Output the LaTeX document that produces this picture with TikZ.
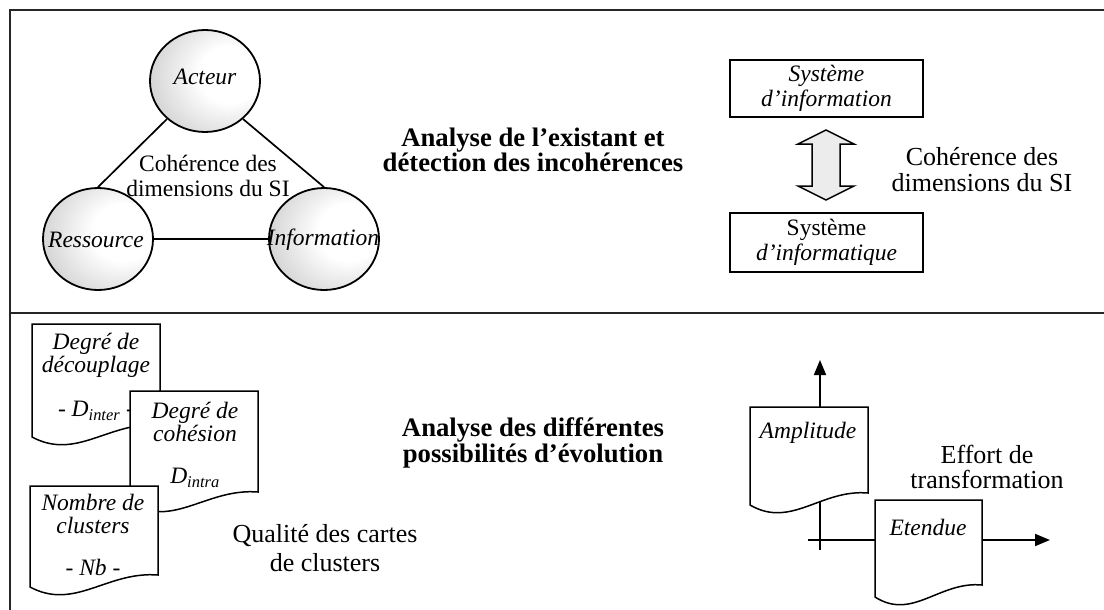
\documentclass[tikz,border=0pt]{standalone}
\usepackage{fontspec}
\setmainfont{Liberation Serif}
\usetikzlibrary{shapes.geometric,arrows.meta,calc}
\pgfdeclareradialshading{spherelit}{\pgfpoint{14bp}{4bp}}{color(0bp)=(white); color(14bp)=(white); color(40bp)=(gray!45); color(60bp)=(gray!80); color(75bp)=(gray!85)}
\newcommand{\docshape}[4]{%
  \filldraw[docline] (#1,#2) -- (#1+#3,#2) -- (#1+#3,#2+#4-12)
    .. controls (#1+0.6*#3,#2+#4-16) and (#1+0.35*#3,#2+#4+24) .. (#1,#2+#4) -- cycle;}
\tikzset{
  frame/.style={line width=2pt, black!85},
  ball/.style={ellipse, draw, line width=1.8pt, shading=spherelit, minimum width=110pt, minimum height=102pt, inner sep=0pt},
  link/.style={line width=1.7pt},
  sbox/.style={rectangle, draw, line width=1.5pt, minimum width=193pt, inner sep=0pt},
  docline/.style={line width=1.5pt, fill=white},
  axis/.style={line width=1.7pt, -{Triangle[length=15pt,width=12pt]}},
  reg/.style={font=\fontsize{23.5}{25}\selectfont, align=center, inner sep=0pt},
  regL/.style={font=\fontsize{26}{26}\selectfont, align=center, inner sep=0pt},
  ital/.style={font=\fontsize{23.5}{22.5}\selectfont\itshape, align=center, inner sep=0pt},
  boldt/.style={font=\fontsize{26.7}{24}\selectfont\bfseries, align=center, inner sep=0pt},
}
\begin{document}
\begin{tikzpicture}[x=1pt,y=-1pt]
\useasboundingbox (0,0) rectangle (1104,610);
% frame
\coordinate (fTL) at (10,10);
\coordinate (fTR) at (1104,10);
\coordinate (fBL) at (10,610);
\coordinate (mL) at (10,313);
\coordinate (mR) at (1104,313);
\draw[frame] (fBL) -- (fTL) -- (fTR);
\draw[frame] (mL) -- (mR);

% ---- top left: triangle of spheres
\node[ball] (acteur) at (205,81) {};
\node[ball] (ressource) at (98,239) {};
\node[ball] (information) at (324,239) {};
\draw[link] (acteur.225) -- (ressource.north);
\draw[link] (acteur.-45) -- (information.north);
\draw[link] (ressource.east) -- (information.west);
\node[ital] (acteurT) at (205,77) {Acteur};
\node[ital] (ressourceT) at (96,240) {Ressource};
\node[ital] (informationT) at (323,240) {Information};
\node[reg] (cohL) at (208,176) {Cohérence des\\dimensions du SI};

% ---- top middle
\node[boldt] (titre1) at (533,150) {Analyse de l’existant et\\détection des incohérences};

% ---- top right
\node[sbox, minimum height=57pt, ital, font=\fontsize{23.5}{24.5}\selectfont\itshape] (sysinfo) at (826.5,88.5) {Système\\d’information};
\node[sbox, minimum height=59pt, font=\fontsize{23.5}{24.5}\selectfont, align=center] (sysinfq) at (826.5,242.5) {Système\\\textit{d’informatique}};
\coordinate (arr) at (826,165);
\filldraw[line width=1.5pt, fill=gray!15, line join=miter]
  ($(arr)+(0,-35)$) -- ($(arr)+(28,-21)$) -- ($(arr)+(14,-21)$) -- ($(arr)+(14,21)$) -- ($(arr)+(28,21)$)
  -- ($(arr)+(0,35)$) -- ($(arr)+(-28,21)$) -- ($(arr)+(-14,21)$) -- ($(arr)+(-14,-21)$) -- ($(arr)+(-28,-21)$) -- cycle;
\node[regL] (cohR) at (982,170) {Cohérence des\\dimensions du SI};

% ---- bottom left: documents
\docshape{32}{324}{128}{113}
\node[ital] (doc1) at (96,377) {Degré de\\découplage\\[22pt]- D\textsubscript{inter} -};
\docshape{130}{391}{128}{113}
\node[ital] (doc2) at (195,445) {Degré de\\cohésion\\[20pt]D\textsubscript{intra}};
\docshape{30}{486}{128}{101}
\node[ital] (doc3) at (93,535) {Nombre de\\clusters\\[20pt]- Nb -};
\node[regL, font=\fontsize{26}{29}\selectfont] (qualite) at (325,548) {Qualité des cartes\\de clusters};

% ---- bottom middle
\node[boldt] (titre2) at (533,443) {Analyse des différentes\\possibilités d’évolution};

% ---- bottom right: axes
\coordinate (vB) at (820,550);
\coordinate (vT) at (820,360);
\coordinate (hL) at (808,540);
\coordinate (hR) at (1050,540);
\draw[axis] (vB) -- (vT);
\docshape{750}{407}{118}{98}
\node[ital] (ampl) at (808,433) {Amplitude};
\draw[axis] (hL) -- (hR);
\docshape{875}{500}{107}{97}
\node[ital] (etendue) at (928,527) {Etendue};
\node[regL, font=\fontsize{26}{25}\selectfont] (effort) at (987,467) {Effort de\\transformation};
\end{tikzpicture}
\end{document}
